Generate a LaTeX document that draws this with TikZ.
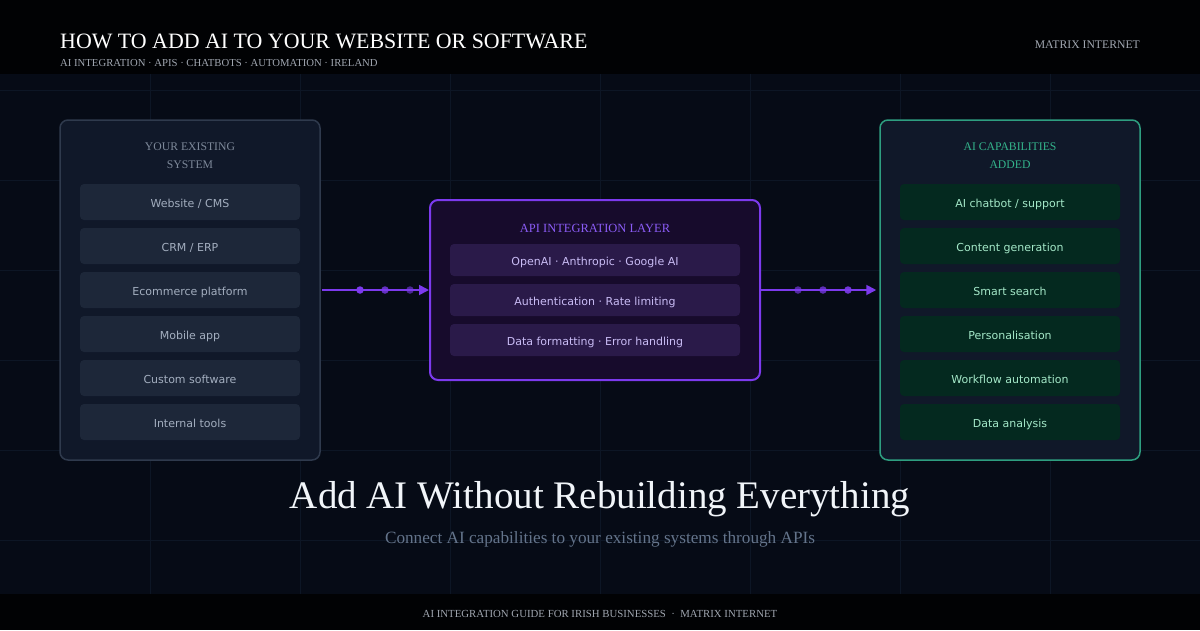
\documentclass[tikz,border=0pt]{standalone}
\usepackage{fontspec}
\setmainfont{Liberation Serif}
\newfontfamily\dv{DejaVu Sans}
\usetikzlibrary{arrows.meta}
\definecolor{bg}{HTML}{060B16}
\definecolor{hdr}{HTML}{010204}
\definecolor{gridc}{HTML}{0D1625}
\definecolor{panelfill}{HTML}{101829}
\definecolor{slatestroke}{HTML}{2F3A4D}
\definecolor{slateitem}{HTML}{1D2739}
\definecolor{slatetext}{HTML}{A3AEBF}
\definecolor{slatetitle}{HTML}{7D8899}
\definecolor{purp}{HTML}{7C3AED}
\definecolor{midfill}{HTML}{170B2C}
\definecolor{miditem}{HTML}{2A1A49}
\definecolor{midtext}{HTML}{C9BCF5}
\definecolor{midtitle}{HTML}{8B5CF6}
\definecolor{grn}{HTML}{2E9E80}
\definecolor{grntitle}{HTML}{34B58C}
\definecolor{grnitem}{HTML}{04291F}
\definecolor{grntext}{HTML}{A4E8C8}
\definecolor{headtext}{HTML}{F1F5F9}
\definecolor{subgray}{HTML}{64748B}
\definecolor{hdrgray}{HTML}{A0A6B0}
\begin{document}
\begin{tikzpicture}[x=1pt,y=-1pt,
  panel/.style={rounded corners=8pt, line width=1.5pt, inner sep=0pt},
  itembox/.style={rounded corners=4pt, inner sep=0pt, font=\dv\fontsize{11}{13}\selectfont,
    text height=10pt, text depth=0pt},
  ptitle/.style={font=\fontsize{11.7}{14}\selectfont, anchor=base, inner sep=0pt},
  dotc/.style={circle, fill=purp, inner sep=0pt, minimum size=7.5pt},
  conn/.style={draw=purp, line width=1.8pt, -{Triangle[length=10pt,width=10pt]}}
]
\useasboundingbox (0,0) rectangle (1200,630);
\fill[bg] (0,0) rectangle (1200,630);
% grid
\foreach \gx in {150,300,...,1050} \draw[gridc, line width=1pt] (\gx,74) -- (\gx,594);
\foreach \gy in {90,180,...,540} \draw[gridc, line width=1pt] (0,\gy) -- (1200,\gy);
% header and footer
\fill[hdr] (0,0) rectangle (1200,74);
\fill[hdr] (0,594) rectangle (1200,630);
\node[anchor=base west, inner sep=0pt, text=white, font=\fontsize{21.9}{24}\selectfont] (title) at (60,48) {HOW TO ADD AI TO YOUR WEBSITE OR SOFTWARE};
\node[anchor=base west, inner sep=0pt, text=hdrgray, font=\fontsize{10.7}{12}\selectfont] (subtitle) at (60,66) {AI INTEGRATION · APIS · CHATBOTS · AUTOMATION · IRELAND};
\node[anchor=base east, inner sep=0pt, text=hdrgray, font=\fontsize{11.7}{13}\selectfont] (brand) at (1140,48) {MATRIX INTERNET};
\node[anchor=base, inner sep=0pt, text=hdrgray, font=\fontsize{10.8}{12}\selectfont] (footer) at (600,617) {AI INTEGRATION GUIDE FOR IRISH BUSINESSES\ \ ·\ \ MATRIX INTERNET};

% left panel
\node[panel, draw=slatestroke, fill=panelfill, minimum width=260pt, minimum height=340pt] (left) at (190,290) {};
\node[ptitle, text=slatetitle] (lt1) at (190,150) {YOUR EXISTING};
\node[ptitle, text=slatetitle] (lt2) at (190,168) {SYSTEM};
\foreach \lab [count=\i] in {Website / CMS, CRM / ERP, Ecommerce platform, Mobile app, Custom software, Internal tools}
  \node[itembox, fill=slateitem, text=slatetext, minimum width=220pt, minimum height=36pt] (l\i) at (190,{202+44*(\i-1)}) {\lab};

% middle panel
\node[panel, draw=purp, line width=2pt, fill=midfill, minimum width=330pt, minimum height=180pt] (mid) at (595,290) {};
\node[ptitle, text=midtitle, font=\fontsize{12.5}{14}\selectfont] (mt) at (595,232) {API INTEGRATION LAYER};
\foreach \lab [count=\i] in {OpenAI · Anthropic · Google AI, Authentication · Rate limiting, Data formatting · Error handling}
  \node[itembox, fill=miditem, text=midtext, minimum width=290pt, minimum height=32pt] (m\i) at (595,{260+40*(\i-1)}) {\lab};

% right panel
\node[panel, draw=grn, fill=panelfill, minimum width=260pt, minimum height=340pt] (right) at (1010,290) {};
\node[ptitle, text=grntitle] (rt1) at (1010,150) {AI CAPABILITIES};
\node[ptitle, text=grntitle] (rt2) at (1010,168) {ADDED};
\foreach \lab [count=\i] in {AI chatbot / support, Content generation, Smart search, Personalisation, Workflow automation, Data analysis}
  \node[itembox, fill=grnitem, text=grntext, minimum width=220pt, minimum height=36pt] (r\i) at (1010,{202+44*(\i-1)}) {\lab};

% connectors
\draw[conn, shorten <=1pt] (left.east) -- (mid.west);
\draw[conn, shorten >=3pt] (mid.east) -- (right.west);
\node[dotc, opacity=1] (d1) at (360,290) {};
\node[dotc, opacity=0.8] (d2) at (385,290) {};
\node[dotc, opacity=0.6] (d3) at (410,290) {};
\node[dotc, opacity=0.65] (d4) at (798,290) {};
\node[dotc, opacity=0.75] (d5) at (823,290) {};
\node[dotc, opacity=0.9] (d6) at (848,290) {};

% bottom texts
\node[anchor=base, inner sep=0pt, text=headtext, font=\fontsize{39}{44}\selectfont] (head) at (600,508) {Add AI Without Rebuilding Everything};
\node[anchor=base, inner sep=0pt, text=subgray, font=\fontsize{17.2}{20}\selectfont] (sub) at (600,543) {Connect AI capabilities to your existing systems through APIs};
\end{tikzpicture}
\end{document}
